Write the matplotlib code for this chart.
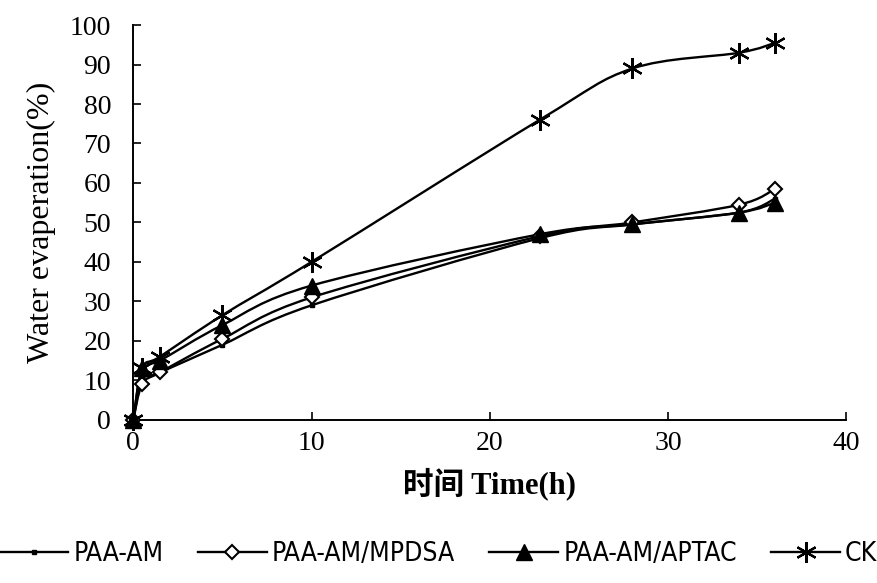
import matplotlib
matplotlib.use('Agg')
import matplotlib.pyplot as plt
from matplotlib import font_manager
from matplotlib.path import Path
from matplotlib.patches import PathPatch
from matplotlib.lines import Line2D

# time points (h)
time_h = [0, 0.5, 1.5, 5, 10, 22.8, 28, 34, 36]

paa_am = [0, 10, 12, 19, 29, 46, 49.5, 52.5, 56]
paa_am_mpdsa = [0, 9, 12, 20.5, 31, 46.5, 50, 54.5, 58.5]
paa_am_aptac = [0, 13, 15, 24, 34, 47, 49.5, 52.5, 55]
ck = [0, 13, 16, 26.5, 40, 76, 89, 93, 95.5]

series_names = ['PAA-AM', 'PAA-AM/MPDSA', 'PAA-AM/APTAC', 'CK']

x_ticks = [0, 10, 20, 30, 40]
y_ticks = [0, 10, 20, 30, 40, 50, 60, 70, 80, 90, 100]

serif = ['Liberation Serif', 'Noto Sans CJK SC', 'DejaVu Serif']


def narrow_font(size):
    # look for a condensed / narrow sans face, else plain Liberation Sans
    for f in font_manager.fontManager.ttflist:
        n = f.name.lower()
        if ('narrow' in n or 'condensed' in n or f.stretch == 'condensed') \
                and f.weight in (400, 'normal', 'regular') and f.style == 'normal':
            return font_manager.FontProperties(fname=f.fname, size=size)
    return font_manager.FontProperties(family='Liberation Sans', size=size - 3)


def smooth_path(x, y):
    # Excel-like smoothed line (Catmull-Rom as cubic Bezier)
    pts = list(zip(x, y))
    verts = [pts[0]]
    codes = [Path.MOVETO]
    n = len(pts)
    for i in range(n - 1):
        p0 = pts[max(i - 1, 0)]
        p1 = pts[i]
        p2 = pts[i + 1]
        p3 = pts[min(i + 2, n - 1)]
        c1 = (p1[0] + (p2[0] - p0[0]) / 6, p1[1] + (p2[1] - p0[1]) / 6)
        c2 = (p2[0] - (p3[0] - p1[0]) / 6, p2[1] - (p3[1] - p1[1]) / 6)
        verts += [c1, c2, p2]
        codes += [Path.CURVE4] * 3
    return Path(verts, codes)


fig = plt.figure(figsize=(8.77, 5.83), dpi=100)
ax = fig.add_axes([0.152, 0.28, 0.813, 0.677])

styles = [
    dict(marker='s', markersize=3.5, markerfacecolor='black'),
    dict(marker='D', markersize=7.5, markerfacecolor='white', markeredgewidth=1.5),
    dict(marker='^', markersize=11, markerfacecolor='black'),
    dict(marker=(6, 2, 0), markersize=15, markeredgewidth=1.6),
]
handles = []
for vals, name, st in zip([paa_am, paa_am_mpdsa, paa_am_aptac, ck], series_names, styles):
    ax.add_patch(PathPatch(smooth_path(time_h, vals), facecolor='none',
                           edgecolor='black', linewidth=1.7, zorder=2))
    ax.plot(time_h, vals, linestyle='none', color='black',
            markeredgecolor='black', zorder=3, clip_on=False, **st)
    handles.append(Line2D([], [], color='black', linewidth=1.7,
                          markeredgecolor='black', label=name, **st))

ax.set_xlim(0, 40)
ax.set_ylim(0, 100)
ax.set_xticks(x_ticks)
ax.set_yticks(y_ticks)
for s in ['top', 'right']:
    ax.spines[s].set_visible(False)
for s in ['left', 'bottom']:
    ax.spines[s].set_linewidth(1.4)
ax.tick_params(direction='in', length=6, width=1.2, labelsize=20)
ax.tick_params(axis='x', pad=8)
ax.tick_params(axis='y', pad=16)
for lab in ax.get_xticklabels() + ax.get_yticklabels():
    lab.set_family(serif)

ax.set_xlabel('时间 Time(h)', fontsize=22, family=serif, fontweight='bold', labelpad=8)
ax.set_ylabel('Water evaperation(%)', fontsize=23, family=serif, labelpad=10)

fig.legend(handles=handles, loc='center', bbox_to_anchor=(0.5, 0.05), ncol=4,
           frameon=False, prop=narrow_font(19), handlelength=2.6,
           handletextpad=0.2, columnspacing=1.3, borderpad=0.1)

fig.savefig('out.png', dpi=100)
